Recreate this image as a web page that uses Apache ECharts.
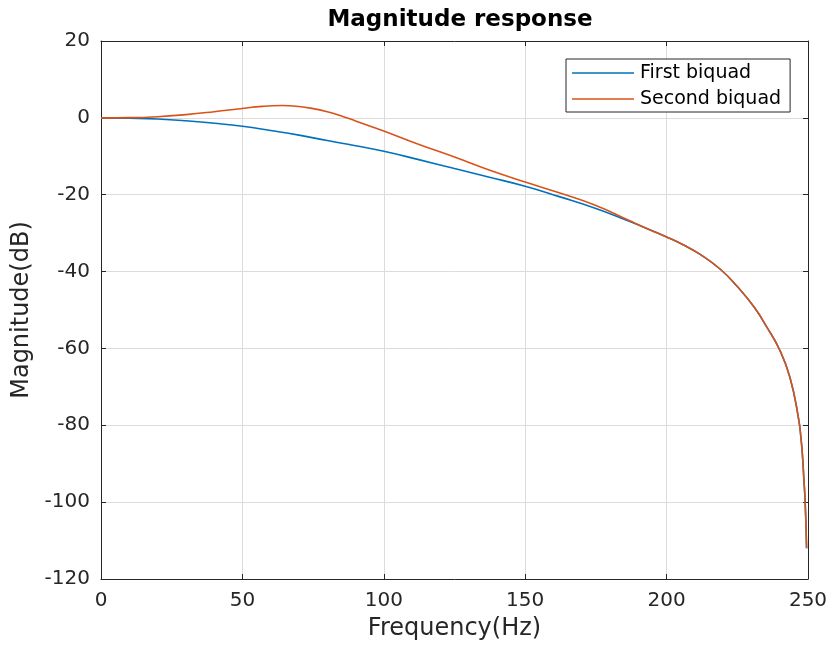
<!DOCTYPE html>
<html>
<head>
<meta charset="utf-8">
<style>
  html, body { margin: 0; padding: 0; background: #ffffff; }
  #chart { width: 832px; height: 647px; }
</style>
<script src="https://cdn.jsdelivr.net/npm/echarts@6/dist/echarts.min.js"></script>
</head>
<body>
<div id="chart"></div>
<script>
// Magnitude response of two cascaded biquad sections (fs = 500 Hz)

// First biquad: frequency (Hz) and magnitude (dB)
const freqFirst = [0, 10, 20, 30, 40, 50, 60, 70, 80, 90, 100, 112, 125, 137, 150, 162, 175, 187];
const magFirst  = [0, -0.1, -0.3, -0.75, -1.4, -2.2, -3.3, -4.5, -5.9, -7.25, -8.7, -10.8, -13.2, -15.4, -17.8, -20.5, -23.6, -27.0];

// Second biquad: frequency (Hz) and magnitude (dB)
const freqSecond = [0, 10, 20, 30, 40, 50, 57, 64, 70, 75, 80, 85, 90, 95, 100, 112, 125, 137, 150, 162, 175, 187];
const magSecond  = [0, 0.05, 0.3, 0.85, 1.6, 2.45, 3.0, 3.2, 2.95, 2.4, 1.6, 0.5, -0.8, -2.1, -3.4, -6.8, -10.2, -13.5, -16.7, -19.5, -22.8, -26.8];

// Above ~194 Hz both sections share the same roll-off toward Nyquist
const freqTail = [194, 200, 206, 212, 219, 225, 231, 235.4, 240, 243.6, 246.6, 247.6, 248.1, 248.5, 249.0, 249.5];
const magTail  = [-29.1, -31.0, -33.1, -35.6, -39.4, -43.9, -49.3, -54.4, -60.4, -67.5, -78, -84, -88.5, -93.5, -100, -112];

// Axis ticks
const xTicks = { min: 0, max: 250, step: 50 };
const yTicks = { min: -120, max: 20, step: 20 };

const seriesNames = ['First biquad', 'Second biquad'];
const seriesColors = ['#0072BD', '#D95319'];

function pairs(fx, fy) {
  const out = [];
  for (let i = 0; i < fx.length; i++) out.push([fx[i], fy[i]]);
  for (let i = 0; i < freqTail.length; i++) out.push([freqTail[i], magTail[i]]);
  return out;
}

const axisColor = '#262626';
const gridColor = '#dcdcdc';
const fontFamily = 'DejaVu Sans';

const chart = echarts.init(document.getElementById('chart'), null, { renderer: 'canvas' });

const baseX = {
  type: 'value', min: xTicks.min, max: xTicks.max, interval: xTicks.step,
  axisLine: { show: true, onZero: false, lineStyle: { color: axisColor, width: 1 } },
  axisTick: { show: true, inside: true, length: 5, lineStyle: { color: axisColor } }
};
const baseY = {
  type: 'value', min: yTicks.min, max: yTicks.max, interval: yTicks.step,
  axisLine: { show: true, onZero: false, lineStyle: { color: axisColor, width: 1 } },
  axisTick: { show: true, inside: true, length: 5, lineStyle: { color: axisColor } }
};

chart.setOption({
  animation: false,
  backgroundColor: '#ffffff',
  textStyle: { fontFamily: fontFamily },
  title: {
    text: 'Magnitude response',
    left: 455, textAlign: 'center', top: 4,
    textStyle: { fontFamily: fontFamily, fontSize: 23, fontWeight: 'bold', color: '#000000' }
  },
  grid: { left: 101, right: 24, top: 41, bottom: 68, containLabel: false },
  legend: {
    data: seriesNames,
    orient: 'vertical',
    left: 566, top: 59,
    icon: 'rect',
    itemWidth: 62, itemHeight: 1.5,
    itemGap: 6,
    padding: [4, 9, 3, 6],
    borderColor: '#262626', borderWidth: 1,
    backgroundColor: '#ffffff',
    textStyle: { fontFamily: fontFamily, fontSize: 19, color: '#000000', lineHeight: 20, padding: [0, 0, 0, 1] }
  },
  xAxis: [
    Object.assign({}, baseX, {
      position: 'bottom',
      name: 'Frequency(Hz)', nameLocation: 'middle', nameGap: 38,
      nameTextStyle: { fontFamily: fontFamily, fontSize: 24, color: axisColor },
      axisLabel: { show: true, margin: 12, fontSize: 20, color: axisColor, fontFamily: fontFamily },
      splitLine: { show: true, lineStyle: { color: gridColor, width: 1 } }
    }),
    Object.assign({}, baseX, {
      position: 'top',
      axisLabel: { show: false },
      splitLine: { show: false }
    })
  ],
  yAxis: [
    Object.assign({}, baseY, {
      position: 'left',
      name: 'Magnitude(dB)', nameLocation: 'middle', nameGap: 67, nameRotate: 90,
      nameTextStyle: { fontFamily: fontFamily, fontSize: 24, color: axisColor },
      axisLabel: { show: true, margin: 11, fontSize: 20, color: axisColor, fontFamily: fontFamily },
      splitLine: { show: true, lineStyle: { color: gridColor, width: 1 } }
    }),
    Object.assign({}, baseY, {
      position: 'right',
      axisLabel: { show: false },
      splitLine: { show: false }
    })
  ],
  series: [
    {
      name: seriesNames[0], type: 'line', xAxisIndex: 0, yAxisIndex: 0,
      data: pairs(freqFirst, magFirst),
      showSymbol: false, symbol: 'none',
      smooth: 0.5,
      lineStyle: { color: seriesColors[0], width: 1.6 },
      itemStyle: { color: seriesColors[0] },
      z: 3
    },
    {
      name: seriesNames[1], type: 'line', xAxisIndex: 0, yAxisIndex: 0,
      data: pairs(freqSecond, magSecond),
      showSymbol: false, symbol: 'none',
      smooth: 0.5,
      lineStyle: { color: seriesColors[1], width: 1.6 },
      itemStyle: { color: seriesColors[1] },
      z: 4
    }
  ]
});
</script>
</body>
</html>
